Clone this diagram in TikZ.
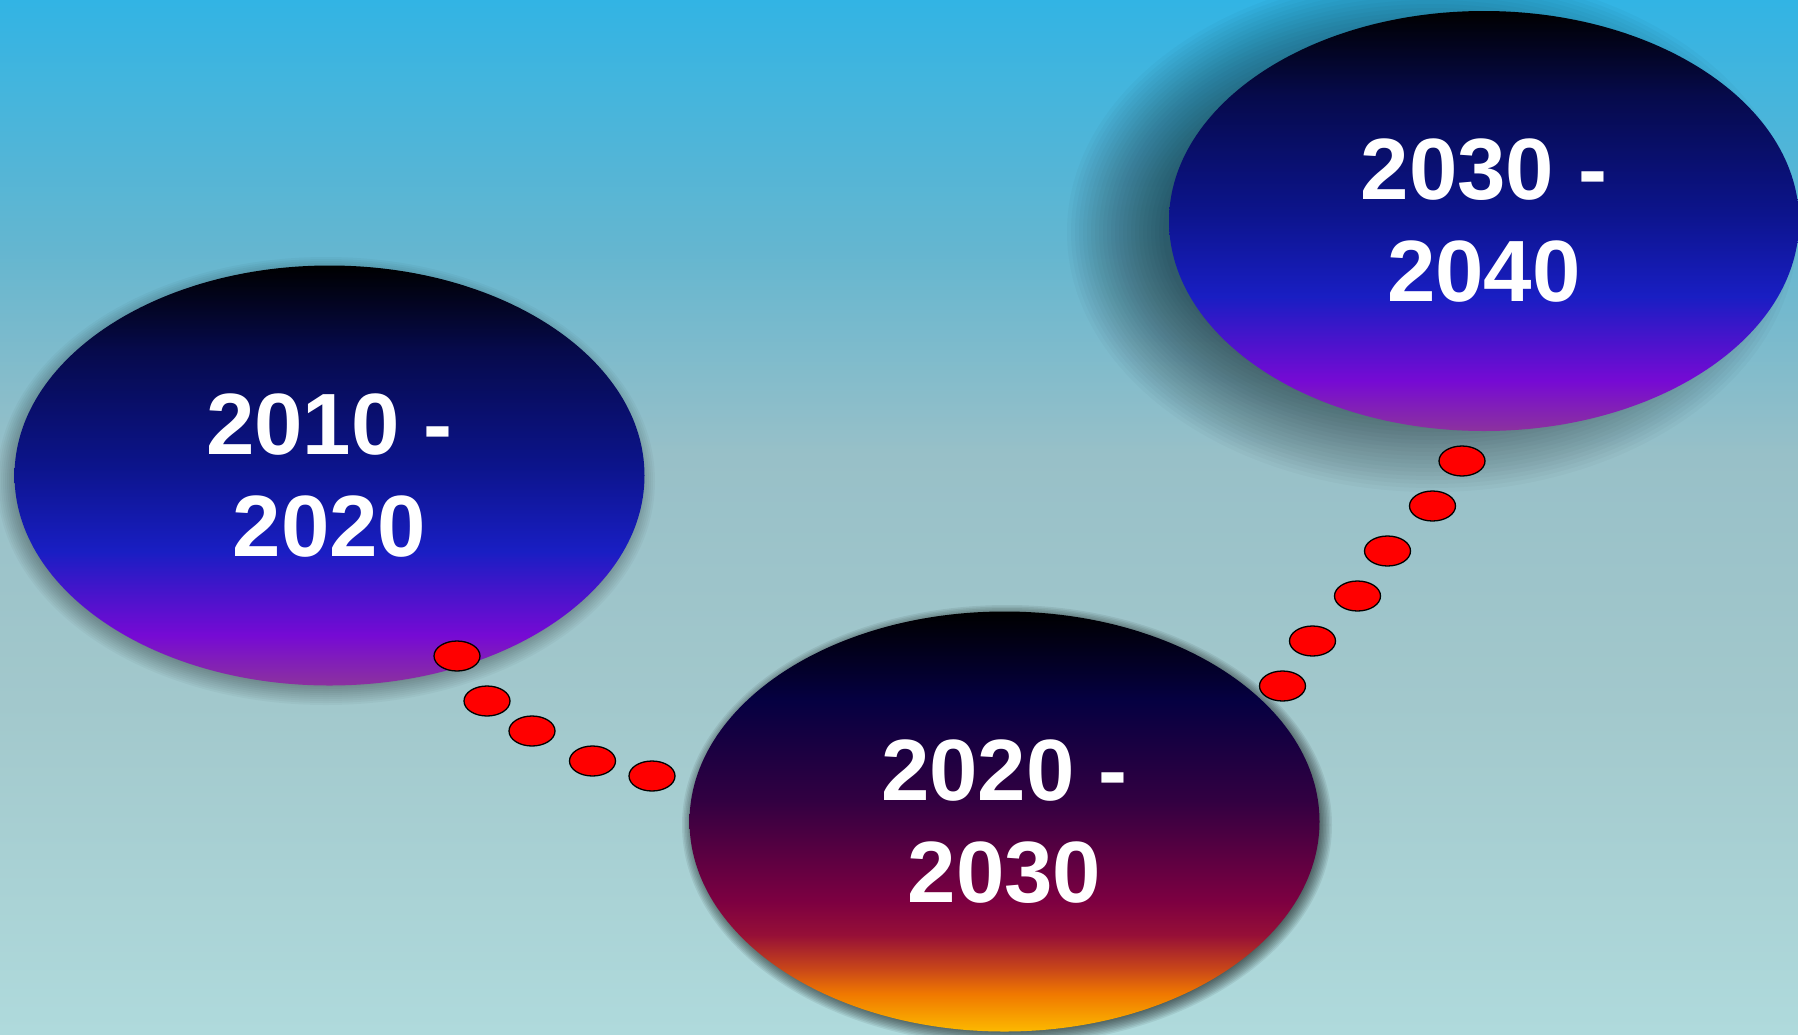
\documentclass[tikz,border=0pt]{standalone}
\usepackage{fontspec}
\setmainfont{Liberation Sans}
\usetikzlibrary{shapes.geometric}

\definecolor{bgA}{RGB}{50,180,228}
\definecolor{bgB}{RGB}{100,182,208}
\definecolor{bgC}{RGB}{152,192,200}
\definecolor{bgD}{RGB}{162,200,204}
\definecolor{bgE}{RGB}{175,218,220}
\pgfdeclareverticalshading{bgshade}{100bp}{color(0bp)=(bgE); color(25bp)=(bgE); color(41bp)=(bgD); color(53bp)=(bgC); color(63bp)=(bgB); color(75bp)=(bgA); color(100bp)=(bgA)}

\definecolor{blA}{RGB}{0,0,0}
\definecolor{blB}{RGB}{6,10,75}
\definecolor{blC}{RGB}{12,20,140}
\definecolor{blD}{RGB}{25,30,195}
\definecolor{blE}{RGB}{118,10,212}
\definecolor{blF}{RGB}{140,50,158}
\pgfdeclareverticalshading{ellblue}{100bp}{color(0bp)=(blF); color(25bp)=(blF); color(31bp)=(blE); color(41bp)=(blD); color(51bp)=(blC); color(65bp)=(blB); color(75bp)=(blA); color(100bp)=(blA)}

\definecolor{orA}{RGB}{0,0,0}
\definecolor{orB}{RGB}{5,0,65}
\definecolor{orC}{RGB}{50,0,65}
\definecolor{orD}{RGB}{125,0,65}
\definecolor{orE}{RGB}{150,15,55}
\definecolor{orF}{RGB}{200,70,25}
\definecolor{orG}{RGB}{240,120,0}
\definecolor{orH}{RGB}{252,185,0}
\pgfdeclareverticalshading{ellsunset}{100bp}{color(0bp)=(orH); color(25bp)=(orH); color(29.5bp)=(orG); color(32.5bp)=(orF); color(36.5bp)=(orE); color(40.5bp)=(orD); color(52.5bp)=(orC); color(64.5bp)=(orB); color(75bp)=(orA); color(100bp)=(orA)}

\tikzset{
  bigell/.style={ellipse, draw=none, minimum width=630pt, minimum height=420pt, inner sep=0pt,
    text=white, align=center, font=\fontsize{87}{102}\selectfont\bfseries},
  reddot/.style={ellipse, draw=black, line width=1.3pt, fill=red, minimum width=46pt, minimum height=30pt, inner sep=0pt},
  shadowlayer/.style={fill=black, draw=none},
}

\begin{document}
\begin{tikzpicture}[x=1pt,y=-1pt]
\useasboundingbox (0,0) rectangle (1798,1034);
\shade[shading=bgshade] (0,0) rectangle (1798,1034);

% soft shadows (stacked translucent ellipses)
\coordinate (s3) at (1432,232);
\foreach \i in {0,...,24}
  \fill[shadowlayer, fill opacity=0.024] (s3) ellipse [x radius={315+50-4*\i}, y radius={210+50-4*\i}];
\coordinate (s1) at (326,481);
\foreach \i in {0,...,14}
  \fill[shadowlayer, fill opacity=0.033] (s1) ellipse [x radius={315+14-2*\i}, y radius={210+14-2*\i}];
\coordinate (s2) at (1007,825);
\foreach \i in {0,...,11}
  \fill[shadowlayer, fill opacity=0.07] (s2) ellipse [x radius={316+9-1.5*\i}, y radius={211+9-1.5*\i}];

\node[bigell, shading=ellblue] (e3) at (1484,221) {2030 -\\2040};
\node[bigell, shading=ellblue] (e1) at (329.5,475.5) {2010 -\\2020};
\node[bigell, shading=ellsunset] (e2) at (1004.5,821.5) {2020 -\\2030};

\node[reddot] (l1) at (457,656) {};
\node[reddot] (l2) at (487,701) {};
\node[reddot] (l3) at (532,731) {};
\node[reddot] (l4) at (592.5,761) {};
\node[reddot] (l5) at (652,776) {};

\node[reddot] (r1) at (1462,461) {};
\node[reddot] (r2) at (1432.5,506) {};
\node[reddot] (r3) at (1387.5,551) {};
\node[reddot] (r4) at (1357.5,596) {};
\node[reddot] (r5) at (1312.5,641) {};
\node[reddot] (r6) at (1282.5,686) {};
\end{tikzpicture}
\end{document}
